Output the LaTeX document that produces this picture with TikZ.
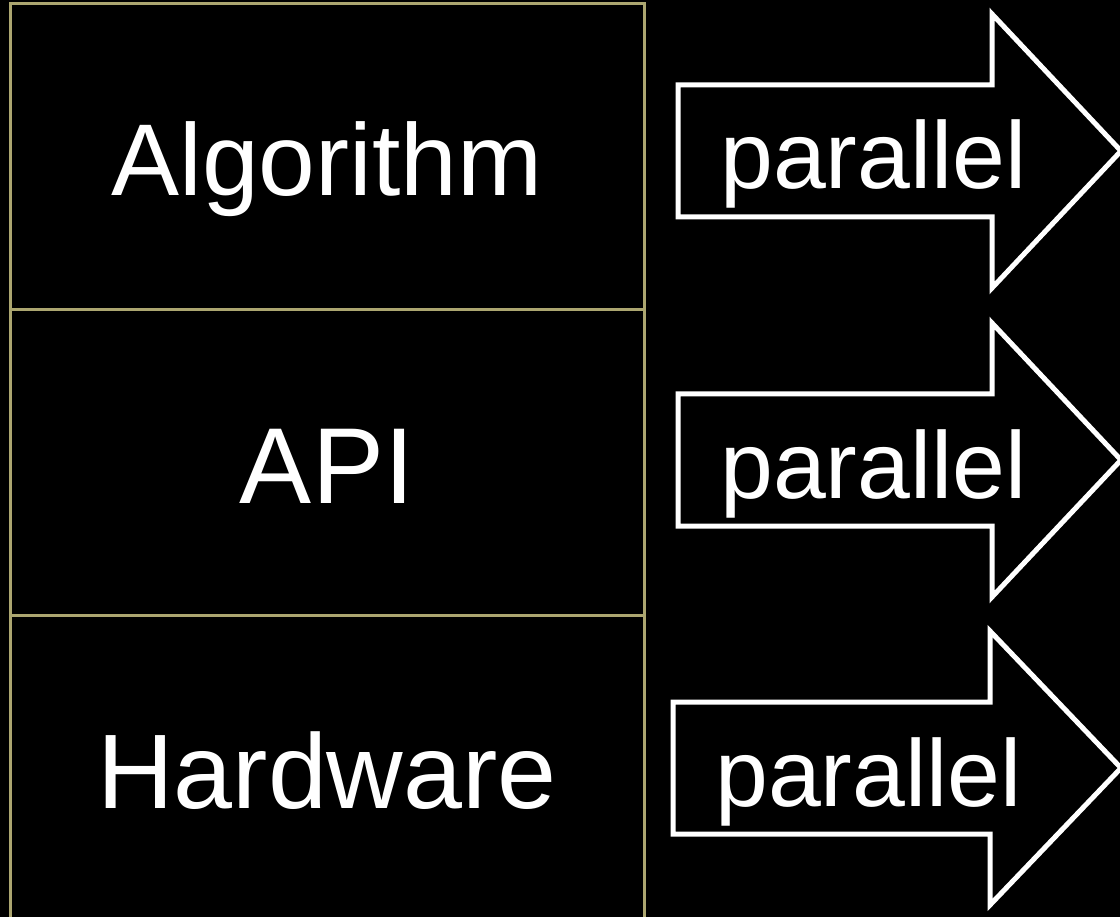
\documentclass[tikz,border=0pt]{standalone}
\usepackage{fontspec}
\setmainfont{Liberation Sans}
\definecolor{layerline}{RGB}{172,166,112}
\tikzset{
  layer/.style={draw=layerline, line width=3pt, minimum width=634pt, text=white,
    text depth=0pt, inner sep=0pt},
  arrowbox/.style={draw=white, line width=5pt, fill=black, line join=miter},
  arrowtext/.style={text=white, font=\fontsize{95}{100}\selectfont, anchor=base west, inner sep=0pt}
}

\begin{document}
\begin{tikzpicture}[x=1pt,y=-1pt]
  \fill[black] (0,0) rectangle (1120,917);
  \clip (0,0) rectangle (1120,917);
  % the three layers
  \node[layer, minimum height=306pt, text height=78pt, font=\fontsize{102}{110}\selectfont] (alg) at (327,157) {Algorithm};
  \node[layer, minimum height=305pt, text height=81pt, font=\fontsize{108}{115}\selectfont] (api) at (327,462.5) {API};
  \node[layer, minimum height=310pt, text height=76pt, font=\fontsize{106}{115}\selectfont] (hw) at (327,770) {Hardware};
  % the arrows
  \foreach \xa/\xb/\y/\n in {678/992/151/a, 678/992/460/b, 673/990/768/c}{
    \draw[arrowbox] (\xa,\y-66) -- (\xb,\y-66) -- (\xb,\y-137) -- (1121,\y)
      -- (\xb,\y+137) -- (\xb,\y+66) -- (\xa,\y+66) -- cycle;
    \node[arrowtext] (par\n) at (\xa+42,\y+38) {parallel};
  }
\end{tikzpicture}
\end{document}
